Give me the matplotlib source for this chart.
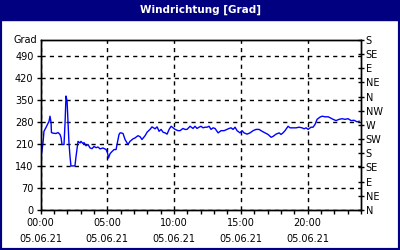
import matplotlib
matplotlib.use("Agg")
import matplotlib.pyplot as plt
from matplotlib.patches import Rectangle

### Data
title = "Windrichtung [Grad]"
unit = "Grad"

hours = [0.00, 0.19, 0.26, 0.41, 0.64, 0.71, 0.79, 0.82, 0.94, 1.16,
         1.31, 1.46, 1.54, 1.61, 1.76, 1.84, 1.91, 1.99, 2.06, 2.13,
         2.21, 2.28, 2.43, 2.58, 2.66, 2.81, 2.96, 3.03, 3.18, 3.26,
         3.41, 3.56, 3.71, 3.86, 4.01, 4.16, 4.31, 4.46, 4.68, 4.91,
         5.02, 5.09, 5.21, 5.36, 5.51, 5.66, 5.73, 5.88, 5.96, 6.03,
         6.18, 6.33, 6.55, 6.70, 6.93, 7.08, 7.30, 7.45, 7.60, 7.83,
         7.98, 8.20, 8.35, 8.58, 8.73, 8.88, 9.03, 9.18, 9.33, 9.48,
         9.63, 9.78, 9.93, 10.08, 10.30, 10.45, 10.67, 10.82, 10.97, 11.20,
         11.42, 11.57, 11.72, 11.87, 12.02, 12.17, 12.32, 12.47, 12.62, 12.77,
         12.92, 13.07, 13.30, 13.52, 13.75, 13.97, 14.12, 14.27, 14.42, 14.57,
         14.72, 14.94, 15.09, 15.24, 15.47, 15.69, 15.92, 16.14, 16.37, 16.59,
         16.82, 17.04, 17.27, 17.42, 17.64, 17.87, 18.01, 18.16, 18.31, 18.54,
         18.69, 18.91, 19.14, 19.36, 19.59, 19.74, 19.89, 20.04, 20.26, 20.41,
         20.56, 20.71, 20.93, 21.09, 21.31, 21.54, 21.69, 21.91, 22.13, 22.36,
         22.58, 22.81, 23.03, 23.26, 23.48, 23.71, 23.86]

direction = [154, 214, 250, 262, 282, 298, 278, 246, 244, 243,
             246, 240, 230, 208, 208, 278, 362, 346, 278, 214,
             170, 140, 140, 140, 170, 218, 213, 218, 211, 214,
             204, 208, 197, 195, 202, 198, 200, 194, 197, 192,
             181, 165, 179, 186, 192, 192, 208, 240, 245, 245,
             243, 224, 208, 218, 226, 229, 236, 233, 224, 236,
             247, 256, 264, 258, 264, 250, 256, 247, 245, 241,
             256, 266, 261, 256, 252, 252, 259, 256, 256, 266,
             259, 266, 259, 263, 266, 261, 263, 263, 266, 256,
             261, 259, 245, 252, 252, 256, 259, 261, 256, 263,
             252, 245, 252, 245, 241, 245, 252, 256, 256, 250,
             245, 240, 231, 234, 241, 245, 240, 245, 252, 266,
             261, 261, 261, 263, 261, 258, 261, 256, 263, 263,
             272, 288, 295, 298, 296, 296, 293, 288, 284, 288,
             290, 288, 290, 284, 285, 280, 282]

left_ticks = [0, 70, 140, 210, 280, 350, 420, 490]
compass = ["N", "NE", "E", "SE", "S", "SW", "W", "NW",
           "N", "NE", "E", "SE", "S"]
x_major = [0, 5, 10, 15, 20]
x_labels = ["00:00\n05.06.21", "05:00\n05.06.21", "10:00\n05.06.21",
            "15:00\n05.06.21", "20:00\n05.06.21"]

navy = "#000080"
fs = 7

### Figure
fig = plt.figure(figsize=(4, 2.5), dpi=100)
fig.patch.set_facecolor("white")

# navy frame + title bar
fig.add_artist(Rectangle((0, 0), 1, 1, transform=fig.transFigure,
                         facecolor="none", edgecolor=navy, linewidth=3))
fig.add_artist(Rectangle((0, 230 / 250), 1, 20 / 250, transform=fig.transFigure,
                         facecolor=navy, edgecolor=navy))
fig.text(0.5, 1 - 10 / 250, title, color="white", fontsize=7.5,
         fontweight="bold", ha="center", va="center")

ax = fig.add_axes([40.5 / 400, 0.16, 320.5 / 400, 0.68])
ax.plot(hours, direction, color="#0000ff", linewidth=1)

ax.set_xlim(0, 24)
ax.set_ylim(0, 540)

ax.set_yticks(left_ticks)
ax.set_yticklabels([str(v) for v in left_ticks], fontsize=fs)
ax.text(-0.012, 1.0, unit, transform=ax.transAxes, ha="right",
        va="center", fontsize=fs)

ax.set_xticks(x_major)
ax.set_xticklabels(x_labels, fontsize=fs, linespacing=1.75)
ax.set_xticks(range(0, 25), minor=True)
ax.tick_params(axis="x", which="both", direction="out", length=3,
               width=1, pad=3)
ax.tick_params(axis="y", direction="out", length=3, width=1, pad=2)

ax.grid(True, which="major", color="black", linestyle=(0, (3, 3)),
        linewidth=1)

# compass scale on the right
ax2 = ax.twinx()
ax2.set_ylim(0, 540)
ax2.set_yticks([i * 45 for i in range(len(compass))])
ax2.set_yticklabels(compass, fontsize=fs)
ax2.tick_params(axis="y", direction="inout", length=5, width=1, pad=1)

for a in (ax, ax2):
    for s in a.spines.values():
        s.set_linewidth(1)
        s.set_color("black")

fig.savefig("out.png", dpi=100)
